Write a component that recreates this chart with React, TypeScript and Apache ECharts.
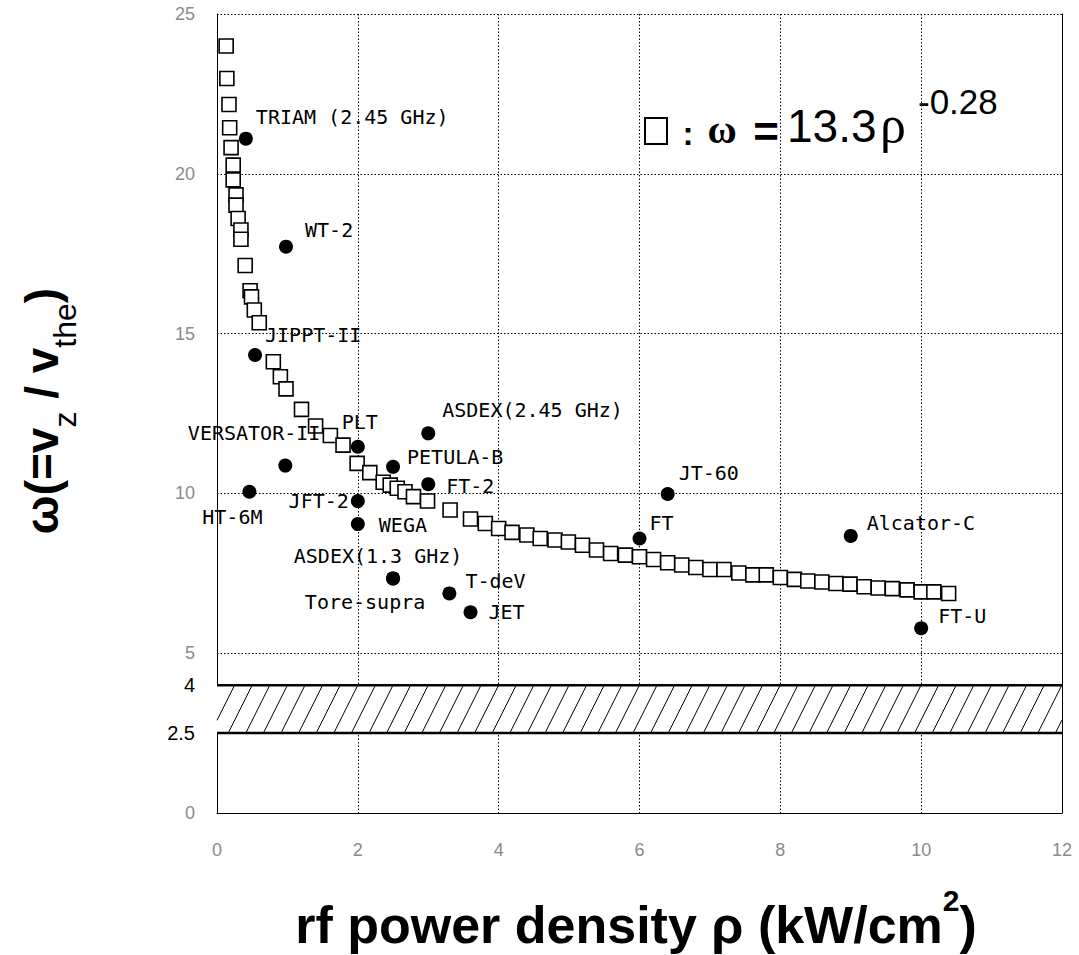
import React, { useEffect, useRef } from 'react';
import * as echarts from 'echarts';

// ---- data ----
// fitted curve points (open squares)
const fitRho = [0.13, 0.14, 0.17, 0.18, 0.2, 0.23, 0.23, 0.27, 0.27, 0.3, 0.34, 0.34, 0.4, 0.47, 0.49, 0.53, 0.6, 0.8, 0.9, 0.98, 1.2, 1.4, 1.61, 1.79, 1.99, 2.17, 2.36, 2.46, 2.56, 2.67, 2.79, 2.99, 3.31, 3.6, 3.81, 4.0, 4.19, 4.4, 4.59, 4.8, 4.99, 5.19, 5.39, 5.59, 5.8, 6.0, 6.2, 6.4, 6.6, 6.8, 7.0, 7.2, 7.41, 7.61, 7.8, 8.0, 8.2, 8.39, 8.59, 8.79, 8.99, 9.19, 9.39, 9.59, 9.8, 10.0, 10.18, 10.39];
const fitOmega = [24.0, 22.98, 22.17, 21.44, 20.82, 20.27, 19.81, 19.34, 19.02, 18.6, 18.24, 17.95, 17.13, 16.34, 16.15, 15.74, 15.34, 14.12, 13.65, 13.27, 12.63, 12.11, 11.81, 11.51, 10.94, 10.65, 10.35, 10.26, 10.16, 10.05, 9.9, 9.76, 9.48, 9.2, 9.06, 8.9, 8.78, 8.7, 8.59, 8.54, 8.48, 8.38, 8.23, 8.12, 8.07, 8.02, 7.93, 7.83, 7.76, 7.68, 7.62, 7.62, 7.51, 7.45, 7.45, 7.37, 7.31, 7.26, 7.23, 7.18, 7.16, 7.08, 7.04, 7.02, 6.98, 6.92, 6.92, 6.87];

// experimental devices (filled circles)
const deviceNames = ['TRIAM (2.45 GHz)', 'WT-2', 'JIPPT-II', 'VERSATOR-II', 'HT-6M', 'PLT', 'JFT-2', 'WEGA', 'PETULA-B', 'ASDEX(2.45 GHz)', 'FT-2', 'ASDEX(1.3 GHz)', 'Tore-supra', 'T-deV', 'JET', 'JT-60', 'FT', 'Alcator-C', 'FT-U'];
const deviceRho = [0.41, 0.98, 0.54, 0.97, 0.46, 2.0, 2.0, 2.0, 2.5, 3.0, 3.0, 2.5, 2.5, 3.3, 3.6, 6.4, 6.0, 9.0, 10.0];
const deviceOmega = [21.1, 17.72, 14.33, 10.87, 10.05, 11.46, 9.76, 9.04, 10.83, 11.88, 10.29, 7.34, 7.34, 6.87, 6.28, 9.98, 8.59, 8.67, 5.78];

// hatched band
const bandOmega = [2.5, 4];
const bandRho = [0, 12];

// tick labels
const xTickValues = [0, 2, 4, 6, 8, 10, 12];
const yTickValues = [0, 2.5, 4, 5, 10, 15, 20, 25];
const bandTickValues = [2.5, 4];

// label placement (presentation only): [align, dx, dy] relative to the dot
const labelPlacement: [string, number, number][] = [
  ['left', 10, -22],
  ['left', 19, -17],
  ['left', 10, -20],
  ['right', 35, -33],
  ['center', -17, 25],
  ['center', 2, -25],
  ['right', -9, 0],
  ['left', 21, 1],
  ['left', 14, -10],
  ['left', 14, -23],
  ['left', 18, 2],
  ['center', -15, -22],
  ['center', -28, 24],
  ['left', 16, -12],
  ['left', 18, 0],
  ['left', 11, -21],
  ['left', 10, -15],
  ['left', 16, -13],
  ['left', 17, -12],
];

const GRID_LINE = { color: '#000', width: 1, type: [1.5, 2] as number[] };

export default function App() {
  const ref = useRef<HTMLDivElement>(null);

  useEffect(() => {
    document.body.style.margin = '0';
    document.body.style.overflow = 'hidden';
    if (!ref.current) return;
    const chart = echarts.init(ref.current, null, { renderer: 'svg' });

    const option: any = {
      animation: false,
      backgroundColor: '#fff',
      grid: { left: 217, right: 17, top: 14, bottom: 142, containLabel: false, outerBoundsMode: 'none' },
      xAxis: {
        type: 'value',
        min: 0,
        max: 12,
        interval: 2,
        axisLine: { show: true, onZero: false, lineStyle: { color: '#000', width: 1 } },
        axisTick: { show: false },
        axisLabel: {
          customValues: xTickValues,
          margin: 28,
          color: '#8a8a8a',
          fontSize: 18,
          fontFamily: 'Liberation Sans',
        },
        splitLine: { show: true, lineStyle: GRID_LINE },
      },
      yAxis: [
        {
          type: 'value',
          min: 0,
          max: 25,
          interval: 5,
          axisLine: { show: true, onZero: false, lineStyle: { color: '#000', width: 1 } },
          axisTick: { show: false },
          axisLabel: {
            customValues: yTickValues,
            margin: 22,
            formatter: (v: number) => (bandTickValues.includes(v) ? `{b|${v}}` : `{a|${v}}`),
            rich: {
              a: { color: '#8a8a8a', fontSize: 18, fontFamily: 'Liberation Sans' },
              b: { color: '#000', fontSize: 20, fontFamily: 'Liberation Sans' },
            },
          },
          splitLine: { show: true, lineStyle: GRID_LINE },
        },
        {
          type: 'value',
          position: 'right',
          min: 0,
          max: 25,
          axisLine: { show: true, onZero: false, lineStyle: { color: '#000', width: 1 } },
          axisTick: { show: false },
          axisLabel: { show: false },
          splitLine: { show: false },
        },
      ],
      series: [
        {
          type: 'custom',
          name: 'band',
          z: 2,
          silent: true,
          encode: { x: [0, 2], y: [1, 3] },
          data: [[bandRho[0], bandOmega[0], bandRho[1], bandOmega[1]]],
          renderItem: (params: any, api: any) => {
            const tl = api.coord([api.value(0), api.value(3)]);
            const br = api.coord([api.value(2), api.value(1)]);
            const L = tl[0], T = tl[1], R = br[0], B = br[1];
            const h = B - T;
            const run = 24;
            const step = 17.6;
            const children: any[] = [
              { type: 'rect', shape: { x: L, y: T, width: R - L, height: h }, style: { fill: '#fff' } },
            ];
            for (let xb = L - run; xb < R; xb += step) {
              let x1 = xb, y1 = B, x2 = xb + run, y2 = T;
              if (x1 < L) { const t = (L - x1) / run; x1 = L; y1 = B - t * h; }
              if (x2 > R) { const t = (x2 - R) / run; x2 = R; y2 = T + t * h; }
              if (x2 <= x1) continue;
              children.push({ type: 'line', shape: { x1, y1, x2, y2 }, style: { stroke: '#000', lineWidth: 1 } });
            }
            children.push({ type: 'line', shape: { x1: L, y1: T, x2: R, y2: T }, style: { stroke: '#000', lineWidth: 2.5 } });
            children.push({ type: 'line', shape: { x1: L, y1: B, x2: R, y2: B }, style: { stroke: '#000', lineWidth: 2.5 } });
            return { type: 'group', children };
          },
        },
        {
          type: 'scatter',
          name: 'fit',
          z: 3,
          symbol: 'rect',
          symbolSize: 14,
          itemStyle: { color: '#fff', borderColor: '#000', borderWidth: 1.6, opacity: 1 },
          data: fitRho.map((x, i) => [x, fitOmega[i]]),
        },
        {
          type: 'scatter',
          name: 'devices',
          z: 4,
          symbol: 'circle',
          symbolSize: 14,
          itemStyle: { color: '#000', opacity: 1 },
          label: {
            show: true,
            position: 'inside',
            formatter: '{b}',
            color: '#000',
            fontFamily: 'DejaVu Sans Mono',
            fontSize: 20,
            verticalAlign: 'middle',
          },
          data: deviceNames.map((n, i) => ({
            name: n,
            value: [deviceRho[i], deviceOmega[i]],
            label: { align: labelPlacement[i][0], offset: [labelPlacement[i][1], labelPlacement[i][2]] },
          })),
        },
      ],
      graphic: [
        // y axis title
        {
          type: 'text',
          x: 50,
          y: 411,
          rotation: Math.PI / 2,
          style: {
            text: '{m|ω(=v}{s|z}{m| / v}{s|the}{m|)}',
            align: 'center',
            verticalAlign: 'middle',
            fill: '#000',
            rich: {
              m: { fontSize: 46, fontWeight: 'bold', fontFamily: 'Liberation Sans', verticalAlign: 'top', fill: '#000' },
              s: { fontSize: 32, fontFamily: 'Liberation Sans', verticalAlign: 'top', padding: [30, 0, 0, 0], fill: '#000' },
            },
          },
        },
        // x axis title
        {
          type: 'text',
          x: 636,
          y: 918,
          style: {
            text: '{m|rf power density ρ (kW/cm}{p|2}{m|)}',
            align: 'center',
            verticalAlign: 'middle',
            fill: '#000',
            rich: {
              m: { fontSize: 52, fontWeight: 'bold', fontFamily: 'Liberation Sans', verticalAlign: 'top', padding: [14, 0, 0, 0], fill: '#000' },
              p: { fontSize: 30, fontWeight: 'bold', fontFamily: 'Liberation Sans', verticalAlign: 'top', fill: '#000' },
            },
          },
        },
        // fit formula annotation
        { type: 'rect', shape: { x: 645, y: 118, width: 22, height: 26 }, style: { fill: '#fff', stroke: '#000', lineWidth: 2 } },
        { type: 'text', x: 688, y: 133, style: { text: ':', fontSize: 33, fontWeight: 'bold', fontFamily: 'Liberation Sans', align: 'center', verticalAlign: 'middle', fill: '#000' } },
        { type: 'text', x: 722, y: 129, style: { text: 'ω', fontSize: 40, fontWeight: 'bold', fontFamily: 'Liberation Serif', align: 'center', verticalAlign: 'middle', fill: '#000' } },
        { type: 'text', x: 766, y: 131, style: { text: '=', fontSize: 44, fontWeight: 'bold', fontFamily: 'Liberation Sans', align: 'center', verticalAlign: 'middle', fill: '#000' } },
        { type: 'text', x: 787, y: 126, style: { text: '13.3', fontSize: 46, fontFamily: 'Liberation Sans', align: 'left', verticalAlign: 'middle', fill: '#000' } },
        { type: 'text', x: 880, y: 124, style: { text: 'ρ', fontSize: 52, fontFamily: 'Liberation Serif', align: 'left', verticalAlign: 'middle', fill: '#000' } },
        { type: 'text', x: 918, y: 101, style: { text: '-0.28', fontSize: 35, fontFamily: 'Liberation Sans', align: 'left', verticalAlign: 'middle', fill: '#000' } },
      ],
    };

    chart.setOption(option);
    return () => chart.dispose();
  }, []);

  return <div ref={ref} style={{ width: 1079, height: 955 }} />;
}
